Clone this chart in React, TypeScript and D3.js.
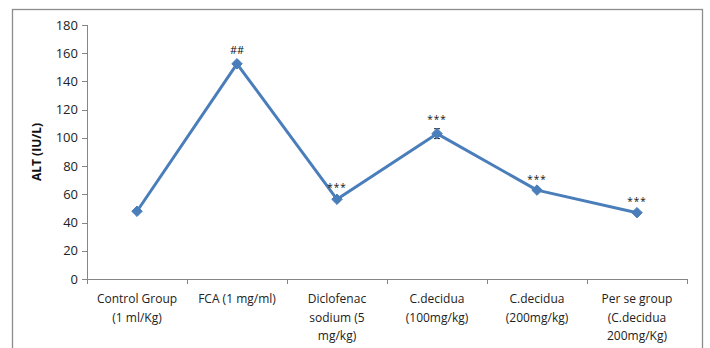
import * as d3 from "d3";

const categories = [
  ["Control Group", "(1 ml/Kg)"],
  ["FCA (1 mg/ml)"],
  ["Diclofenac", "sodium (5", "mg/kg)"],
  ["C.decidua", "(100mg/kg)"],
  ["C.decidua", "(200mg/kg)"],
  ["Per se group", "(C.decidua", "200mg/Kg)"],
];
const altValues = [48, 152.5, 56.5, 103, 63, 47];
const altErrors = [1, 1.5, 1.5, 3.5, 1, 1];
const significance = ["", "##", "***", "***", "***", "***"];
const yTicks = [0, 20, 40, 60, 80, 100, 120, 140, 160, 180];

const W = 710;
const H = 348;
const plot = { left: 87, right: 687, top: 25, bottom: 279 };
const font = "'Open Sans', 'Noto Sans', sans-serif";
const blue = "#4a7ebb";
const axisGray = "#868686";

export default function App() {
  const x = d3
    .scaleBand<number>()
    .domain(d3.range(categories.length))
    .range([plot.left, plot.right]);
  const y = d3.scaleLinear().domain([0, 180]).range([plot.bottom, plot.top]);

  const line = d3
    .line<number>()
    .x((_, i) => x(i)! + x.bandwidth() / 2)
    .y((d) => y(d));

  const diamond = d3.symbol().type(d3.symbolDiamond2).size(70)()!;

  return (
    <svg
      width={W}
      height={H}
      style={{ position: "absolute", left: 0, top: 0, background: "#fff" }}
      fontFamily={font}
    >
      <rect x={12.5} y={9.5} width={690} height={360} fill="none" stroke="#8c8c8c" strokeWidth={1.3} />

      {/* y axis */}
      <line x1={plot.left + 0.5} x2={plot.left + 0.5} y1={y(180)} y2={y(0)} stroke={axisGray} />
      {yTicks.map((t) => (
        <g key={t}>
          <line x1={plot.left - 5} x2={plot.left} y1={Math.round(y(t)) + 0.5} y2={Math.round(y(t)) + 0.5} stroke={axisGray} />
          <text x={plot.left - 9} y={y(t)} dy="0.35em" textAnchor="end" fontSize={13} fill="#222">
            {t}
          </text>
        </g>
      ))}
      <text
        transform={`translate(41,${(y(0) + y(180)) / 2}) rotate(-90)`}
        textAnchor="middle"
        fontSize={12}
        fontWeight="bold"
        fill="#111"
      >
        ALT (IU/L)
      </text>

      {/* x axis */}
      <line x1={plot.left} x2={plot.right} y1={plot.bottom + 0.5} y2={plot.bottom + 0.5} stroke={axisGray} />
      {d3.range(categories.length + 1).map((i) => {
        const px = Math.round(plot.left + i * x.step()) + 0.5;
        return <line key={i} x1={px} x2={px} y1={plot.bottom} y2={plot.bottom + 5} stroke={axisGray} />;
      })}
      {categories.map((lines, i) => (
        <text key={i} x={x(i)! + x.bandwidth() / 2} y={303} textAnchor="middle" fontSize={12} fill="#222">
          {lines.map((l, j) => (
            <tspan key={j} x={x(i)! + x.bandwidth() / 2} dy={j === 0 ? 0 : 18.5}>
              {l}
            </tspan>
          ))}
        </text>
      ))}

      {/* series */}
      <path d={line(altValues)!} fill="none" stroke={blue} strokeWidth={3} strokeLinejoin="round" />
      {altValues.map((v, i) => {
        const cx = x(i)! + x.bandwidth() / 2;
        const e = altErrors[i];
        const isHash = significance[i] === "##";
        return (
          <g key={i}>
            <line x1={cx} x2={cx} y1={y(v + e)} y2={y(v - e)} stroke="#222" strokeWidth={1} />
            <line x1={cx - 3} x2={cx + 3} y1={y(v + e)} y2={y(v + e)} stroke="#222" strokeWidth={1} />
            <line x1={cx - 3} x2={cx + 3} y1={y(v - e)} y2={y(v - e)} stroke="#222" strokeWidth={1} />
            <path d={diamond} transform={`translate(${cx},${y(v)})`} fill={blue} stroke={blue} />
            {significance[i] && (
              <text
                x={cx}
                y={y(v + e) - (isHash ? 8 : 6)}
                textAnchor="middle"
                fontSize={isHash ? 11 : 10}
                letterSpacing={isHash ? 0 : 1}
                fill="#111"
              >
                {significance[i]}
              </text>
            )}
          </g>
        );
      })}
    </svg>
  );
}
